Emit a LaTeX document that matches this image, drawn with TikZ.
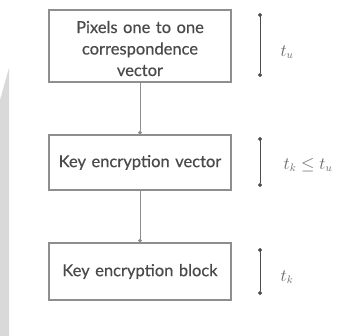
\documentclass[tikz,border=0pt]{standalone}
\usepackage{fontspec}
\setmainfont{Lato}[FakeBold=0.4]
\usetikzlibrary{arrows.meta}
\definecolor{boxline}{HTML}{8E8E8E}
\definecolor{txt}{HTML}{4A4A4A}
\definecolor{labtxt}{HTML}{666666}
\definecolor{bggrey}{HTML}{D9D9D9}
\tikzset{
  blk/.style={draw=boxline, line width=1.4pt, minimum width=182pt, text width=176pt, align=center, text=txt, font=\fontsize{16.5pt}{21.5pt}\selectfont, inner sep=0pt},
  flow/.style={draw=boxline, line width=1pt, -{Circle[length=3.5pt]}},
  span/.style={draw=black!70, line width=1pt, {Circle[length=4pt]}-{Circle[length=4pt]}},
  lab/.style={text=labtxt, font=\fontsize{16pt}{18pt}\selectfont}
}
\begin{document}
\begin{tikzpicture}[x=1pt,y=-1pt]
\useasboundingbox (0,0) rectangle (353,336);
\fill[bggrey] (0,100) -- (9,68) -- (9,336) -- (0,336) -- cycle;
\node[blk, minimum height=72pt] (b1) at (140,46) {};
\node[txt, font=\fontsize{16.5pt}{21.5pt}\selectfont, text width=176pt, align=center, inner sep=0pt, text=txt] (b1t) at (140,48.5) {Pixels one to one\\correspondence\\vector};
\node[blk, minimum height=55pt] (b2) at (140,162.5) {Key encryption vector};
\node[blk, minimum height=57pt] (b3) at (140,271.5) {Key encryption block};
\draw[flow] (b1.south) -- (b2.north);
\draw[flow] (b2.south) -- (b3.north);
\coordinate (s1a) at (260,13); \coordinate (s1b) at (260,77);
\coordinate (s2a) at (260,137); \coordinate (s2b) at (260,187);
\coordinate (s3a) at (260,248); \coordinate (s3b) at (260,295);
\draw[span] (s1a) -- (s1b);
\draw[span] (s2a) -- (s2b);
\draw[span] (s3a) -- (s3b);
\node[lab] (l1) at (287,52) {$t_u$};
\node[lab] (l2) at (308,165) {$t_k \leq t_u$};
\node[lab] (l3) at (287,277) {$t_k$};
\end{tikzpicture}
\end{document}
